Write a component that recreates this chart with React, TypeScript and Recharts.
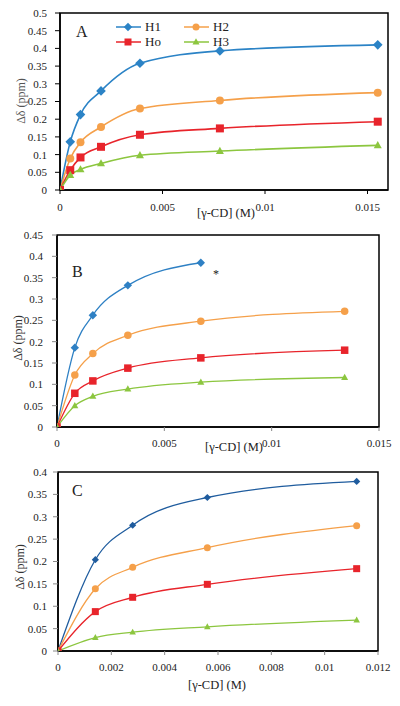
import React from 'react';
import { LineChart, Line, XAxis, YAxis, ReferenceArea, Legend } from 'recharts';

// ---------- data ----------
const SERIES = ['H1', 'H2', 'Ho', 'H3'];

const A_X = [0, 0.0005, 0.001, 0.002, 0.0039, 0.0078, 0.0155];
const A_H1 = [0, 0.136, 0.213, 0.28, 0.358, 0.393, 0.41];
const A_H2 = [0, 0.089, 0.135, 0.178, 0.23, 0.253, 0.275];
const A_HO = [0, 0.056, 0.092, 0.122, 0.156, 0.174, 0.193];
const A_H3 = [0, 0.042, 0.058, 0.075, 0.098, 0.11, 0.126];

const B_X = [0, 0.00083, 0.00167, 0.0033, 0.0067, 0.0134];
const B_H1 = [0, 0.186, 0.262, 0.332, 0.385, null];
const B_H2 = [0, 0.122, 0.172, 0.215, 0.248, 0.271];
const B_HO = [0, 0.079, 0.108, 0.138, 0.162, 0.18];
const B_H3 = [0, 0.05, 0.072, 0.089, 0.105, 0.116];

const C_X = [0, 0.0014, 0.0028, 0.0056, 0.0112];
const C_H1 = [0, 0.204, 0.281, 0.343, 0.379];
const C_H2 = [0, 0.139, 0.187, 0.231, 0.28];
const C_HO = [0, 0.088, 0.12, 0.149, 0.184];
const C_H3 = [0, 0.03, 0.042, 0.054, 0.069];

const A_XTICKS = [0, 0.005, 0.01, 0.015];
const B_XTICKS = [0, 0.005, 0.01, 0.015];
const C_XTICKS = [0, 0.002, 0.004, 0.006, 0.008, 0.01, 0.012];
const A_YTICKS = [0, 0.05, 0.1, 0.15, 0.2, 0.25, 0.3, 0.35, 0.4, 0.45, 0.5];
const B_YTICKS = [0, 0.05, 0.1, 0.15, 0.2, 0.25, 0.3, 0.35, 0.4, 0.45];
const C_YTICKS = [0, 0.05, 0.1, 0.15, 0.2, 0.25, 0.3, 0.35, 0.4];

const X_TITLE = '[γ-CD] (M)';
const Y_TITLE = 'Δδ (ppm)';

const buildRows = (xs: number[], cols: (number | null)[][]) =>
  xs.map((x, i) => {
    const r: any = { x };
    SERIES.forEach((s, j) => {
      r[s] = cols[j][i];
    });
    return r;
  });

const FONT = "'Liberation Serif', 'Times New Roman', serif";
const fmt = (v: number) => String(+v.toFixed(4));

type Shape = 'diamond' | 'circle' | 'square' | 'triangle';
const SHAPES: Shape[] = ['diamond', 'circle', 'square', 'triangle'];

function marker(shape: Shape, cx: number, cy: number, color: string, s: number, key?: any) {
  if (shape === 'diamond') {
    const d = s * 0.6;
    return <path key={key} d={`M${cx},${cy - d}L${cx + d},${cy}L${cx},${cy + d}L${cx - d},${cy}Z`} fill={color} />;
  }
  if (shape === 'circle') return <circle key={key} cx={cx} cy={cy} r={s / 2} fill={color} />;
  if (shape === 'square')
    return <rect key={key} x={cx - s / 2} y={cy - s / 2} width={s} height={s} fill={color} />;
  const h = s * 0.9;
  return (
    <path key={key} d={`M${cx},${cy - h * 0.6}L${cx + s / 2},${cy + h * 0.4}L${cx - s / 2},${cy + h * 0.4}Z`} fill={color} />
  );
}

const makeDot = (shape: Shape, color: string, size: number) => (props: any) => {
  const { cx, cy, index, value } = props;
  if (cx == null || cy == null || value == null || (Array.isArray(value) && value[1] == null))
    return <g key={`e${index}`} />;
  return marker(shape, cx, cy, color, size, `d${index}`);
};

interface PanelProps {
  top: number;
  height: number;
  mTop: number;
  mRight: number;
  yAxisW: number;
  plotH: number;
  xMax: number;
  yMax: number;
  xTicks: number[];
  yTicks: number[];
  rows: any[];
  colors: string[];
  sizes: number[];
  lineW: number;
  xTickMargin: number;
  yTickMargin: number;
  tickColor: string;
  legend?: boolean;
}

function LegendContent(props: any) {
  const payload = [...(props.payload || [])].sort(
    (a: any, b: any) => SERIES.indexOf(a.value) - SERIES.indexOf(b.value)
  );
  return (
    <div
      style={{
        display: 'grid',
        gridTemplateColumns: '68px 60px',
        rowGap: 0,
        fontFamily: FONT,
        fontSize: 13,
        color: '#222',
      }}
    >
      {payload.map((p: any) => {
        const idx = SERIES.indexOf(p.value);
        return (
          <div key={p.value} style={{ display: 'flex', alignItems: 'center', height: 15 }}>
            <svg width={27} height={12} style={{ marginRight: 3 }}>
              <line x1={1} y1={6} x2={26} y2={6} stroke={p.color} strokeWidth={1.5} />
              {marker(SHAPES[idx], 13, 6, p.color, 7)}
            </svg>
            <span>{p.value}</span>
          </div>
        );
      })}
    </div>
  );
}

function Panel(p: PanelProps) {
  const bottomSpace = p.height - p.mTop - p.plotH;
  return (
    <div style={{ position: 'absolute', left: 0, top: p.top }}>
      <LineChart
        width={400}
        height={p.height}
        data={p.rows}
        margin={{ top: p.mTop, right: p.mRight, left: 0, bottom: 0 }}
      >
        <XAxis
          dataKey="x"
          type="number"
          domain={[0, p.xMax]}
          ticks={p.xTicks}
          tickFormatter={fmt}
          height={bottomSpace}
          tickSize={4}
          tickMargin={p.xTickMargin}
          axisLine={{ stroke: '#000', strokeWidth: 1.5 }}
          tickLine={{ stroke: p.tickColor }}
          tick={{ fontFamily: FONT, fontSize: 11, fill: '#222' }}
          allowDataOverflow
        />
        <YAxis
          type="number"
          domain={[0, p.yMax]}
          ticks={p.yTicks}
          tickFormatter={fmt}
          width={p.yAxisW}
          tickSize={5}
          tickMargin={p.yTickMargin}
          axisLine={{ stroke: '#000', strokeWidth: 1.5 }}
          tickLine={{ stroke: p.tickColor }}
          tick={{ fontFamily: FONT, fontSize: 11, fill: '#222' }}
          allowDataOverflow
        />
        <ReferenceArea x1={0} x2={p.xMax} y1={0} y2={p.yMax} fill="none" stroke="#000" strokeWidth={1.5} />
        {SERIES.map((s, i) => (
          <Line
            key={s}
            dataKey={s}
            name={s}
            type="monotone"
            stroke={p.colors[i]}
            strokeWidth={p.lineW}
            dot={makeDot(SHAPES[i], p.colors[i], p.sizes[i])}
            activeDot={false}
            isAnimationActive={false}
            connectNulls={false}
          />
        ))}
        {p.legend && (
          <Legend
            layout="horizontal"
            verticalAlign="middle"
            align="center"
            itemSorter={(item: any) => SERIES.indexOf(item.value)}
            content={<LegendContent />}
            wrapperStyle={{ left: 115, top: 19, width: 135 }}
          />
        )}
      </LineChart>
    </div>
  );
}

const txt = (style: React.CSSProperties, s: string, key: string) => (
  <div
    key={key}
    style={{
      position: 'absolute',
      fontFamily: FONT,
      whiteSpace: 'nowrap',
      lineHeight: 1,
      color: '#222',
      ...style,
    }}
  >
    {s}
  </div>
);

const yTitle = (cx: number, cy: number, color: string, key: string) => (
  <div
    key={key}
    style={{
      position: 'absolute',
      left: cx - 40,
      top: cy - 7,
      width: 80,
      height: 14,
      textAlign: 'center',
      fontFamily: FONT,
      fontSize: 12,
      lineHeight: '14px',
      color,
      transform: 'rotate(-90deg)',
      whiteSpace: 'nowrap',
    }}
  >
    {Y_TITLE}
  </div>
);

const xTitle = (cx: number, cy: number, key: string) => (
  <div
    key={key}
    style={{
      position: 'absolute',
      left: cx - 60,
      top: cy - 7,
      width: 120,
      textAlign: 'center',
      fontFamily: FONT,
      fontSize: 12.5,
      lineHeight: '14px',
      color: '#222',
      whiteSpace: 'nowrap',
    }}
  >
    {X_TITLE}
  </div>
);

export default function App() {
  const rowsA = buildRows(A_X, [A_H1, A_H2, A_HO, A_H3]);
  const rowsB = buildRows(B_X, [B_H1, B_H2, B_HO, B_H3]);
  const rowsC = buildRows(C_X, [C_H1, C_H2, C_HO, C_H3]);
  return (
    <div style={{ position: 'absolute', left: 0, top: 0, width: 400, height: 706, background: '#fff', overflow: 'hidden' }}>
      <Panel
        top={0}
        height={222}
        mTop={13}
        mRight={12}
        yAxisW={60}
        plotH={177}
        xMax={0.016}
        yMax={0.5}
        xTicks={A_XTICKS}
        yTicks={A_YTICKS}
        rows={rowsA}
        colors={['#2b83c6', '#f5a04a', '#e8242b', '#8cc63f']}
        sizes={[8, 8, 8, 8]}
        lineW={1.6}
        xTickMargin={9}
        yTickMargin={8}
        tickColor="#000"
        legend
      />
      <Panel
        top={222}
        height={235}
        mTop={13}
        mRight={21}
        yAxisW={57}
        plotH={192}
        xMax={0.015}
        yMax={0.45}
        xTicks={B_XTICKS}
        yTicks={B_YTICKS}
        rows={rowsB}
        colors={['#2e80c4', '#f5a04a', '#e8242b', '#8cc63f']}
        sizes={[7, 7.5, 7.5, 7]}
        lineW={1.3}
        xTickMargin={8}
        yTickMargin={9}
        tickColor="#888"
      />
      <Panel
        top={460}
        height={221}
        mTop={12}
        mRight={22}
        yAxisW={58}
        plotH={179}
        xMax={0.012}
        yMax={0.4}
        xTicks={C_XTICKS}
        yTicks={C_YTICKS}
        rows={rowsC}
        colors={['#1f5c9e', '#f5a04a', '#e8242b', '#8cc63f']}
        sizes={[6, 7, 7, 6.5]}
        lineW={1.3}
        xTickMargin={8}
        yTickMargin={6}
        tickColor="#888"
      />
      {txt({ left: 76, top: 24, fontSize: 16 }, 'A', 'la')}
      {txt({ left: 72, top: 264, fontSize: 16 }, 'B', 'lb')}
      {txt({ left: 72, top: 483, fontSize: 16 }, 'C', 'lc')}
      {txt({ left: 213, top: 268, fontSize: 12 }, '*', 'ast')}
      {yTitle(21, 101, '#555', 'ya')}
      {yTitle(18, 338, '#333', 'yb')}
      {yTitle(20, 567, '#333', 'yc')}
      {xTitle(226, 213, 'xa')}
      {xTitle(234, 447, 'xb')}
      {xTitle(217, 685, 'xc')}
    </div>
  );
}
